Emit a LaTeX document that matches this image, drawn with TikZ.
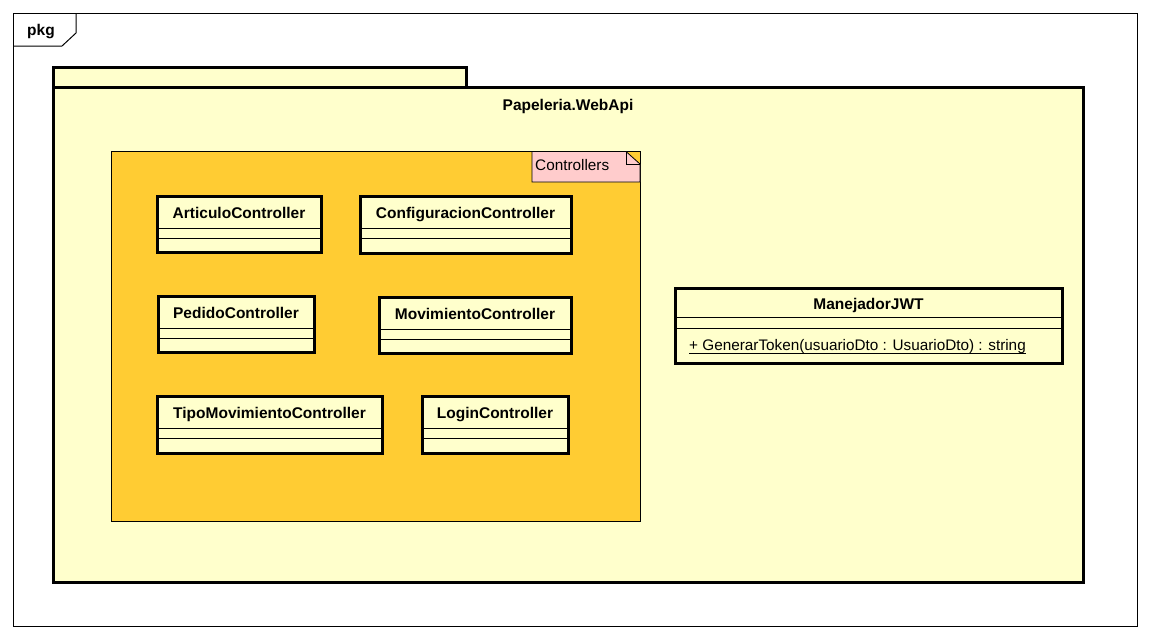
\documentclass[tikz,border=0pt]{standalone}
\usepackage{fontspec}
\setmainfont{Liberation Sans}
\definecolor{pkgfill}{HTML}{FFFFCC}
\definecolor{ctrlfill}{HTML}{FFCC33}
\definecolor{notefill}{HTML}{FFCCCC}
\tikzset{
  clsbox/.style={draw=black, line width=3pt, fill=pkgfill, rectangle, inner sep=0pt, outer sep=0pt},
  boldtxt/.style={font=\fontsize{15.5}{18}\selectfont\bfseries, anchor=base, inner sep=0pt},
  regtxt/.style={font=\fontsize{15.3}{18}\selectfont, inner sep=0pt},
  comp/.style={line width=1pt},
  thinline/.style={line width=1pt, draw=black},
}
\newcommand\umlcls[6]{%
  \node[clsbox, minimum width={#4-#2}, minimum height={#5-#3}] (#1) at ({(#2+#4)/2},{(#3+#5)/2}) {};
  \node[boldtxt] (#1-name) at ({(#2+#4)/2},{#3+22}) {#6};
  \draw[comp] ([yshift=-32pt]#1.north west) -- ([yshift=-32pt]#1.north east);
  \draw[comp] ([yshift=-42pt]#1.north west) -- ([yshift=-42pt]#1.north east);
}
\begin{document}
\begin{tikzpicture}[x=1pt,y=-1pt]
\useasboundingbox (0,0) rectangle (1149,638);
% outer frame
\node[thinline, rectangle, minimum width=1124, minimum height=613, inner sep=0pt, outer sep=0pt] (frame) at (575,319.5) {};
\coordinate (tabA) at (13,46);
\coordinate (tabB) at (62,46);
\coordinate (tabC) at (76,33);
\coordinate (tabD) at (76,13);
\draw[thinline] (tabA) -- (tabB) -- (tabC) -- (tabD);
\node[boldtxt] (pkglbl) at (41,35) {pkg};
% package Papeleria.WebApi
\node[clsbox, minimum width=413, minimum height=20] (pkgtab) at (259.5,77) {};
\node[clsbox, minimum width=1030, minimum height=495] (pkg) at (568,334.5) {};
\node[boldtxt] (pkgname) at (568,110) {Papeleria.WebApi};
% Controllers package
\node[rectangle, fill=ctrlfill, draw=black, line width=0.8pt, minimum width=529, minimum height=370, inner sep=0pt, outer sep=0pt] (ctrl) at (375.5,336) {};
\coordinate (n1) at (532,151.5);
\coordinate (n2) at (626,151.5);
\coordinate (n3) at (640,164);
\coordinate (n4) at (640,182);
\coordinate (n5) at (532,182);
\coordinate (n6) at (626,164);
\filldraw[fill=notefill, draw=black, line width=0.8pt] (n1) -- (n2) -- (n3) -- (n4) -- (n5) -- cycle;
\draw[line width=0.8pt] (n2) -- (n6) -- (n3);
\node[regtxt, anchor=base west] (notelbl) at (535,170) {Controllers};
% classes
\umlcls{art}{157}{196}{321}{252}{ArticuloController}
\umlcls{conf}{360}{196}{571}{253}{ConfiguracionController}
\umlcls{ped}{158}{296}{314}{352}{PedidoController}
\umlcls{mov}{379}{297}{571}{353}{MovimientoController}
\umlcls{tipo}{157}{396}{382}{453}{TipoMovimientoController}
\umlcls{login}{422}{396}{568}{453}{LoginController}
% ManejadorJWT
\node[clsbox, minimum width=387, minimum height=75] (jwt) at (868.5,325.5) {};
\node[boldtxt] (jwt-name) at (868.5,309) {ManejadorJWT};
\draw[comp] ([yshift=-29pt]jwt.north west) -- ([yshift=-29pt]jwt.north east);
\draw[comp] ([yshift=-40pt]jwt.north west) -- ([yshift=-40pt]jwt.north east);
\node[regtxt, anchor=base west] (jwt-op) at (689,350) {+ GenerarToken(usuarioDto : UsuarioDto) : string};
\draw[line width=0.9pt] ([yshift=-3pt]jwt-op.base west) -- ([yshift=-3pt]jwt-op.base east);
\end{tikzpicture}
\end{document}
